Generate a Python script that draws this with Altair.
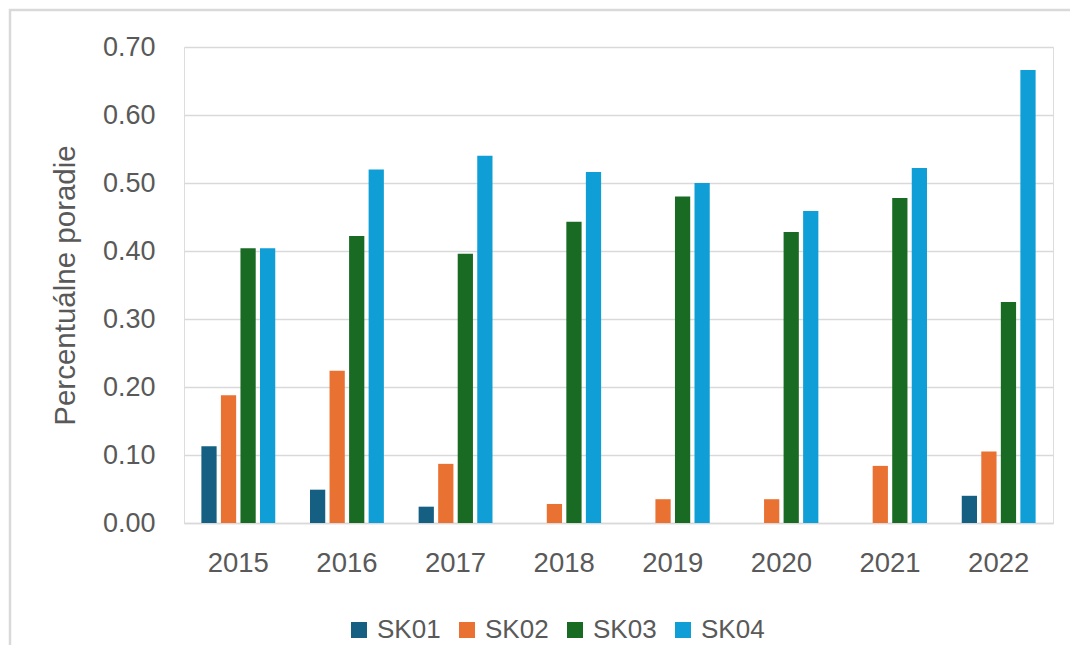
import altair as alt
import pandas as pd

years = ["2015", "2016", "2017", "2018", "2019", "2020", "2021", "2022"]
series = ["SK01", "SK02", "SK03", "SK04"]
sk01 = [0.113, 0.049, 0.024, 0.0, 0.0, 0.0, 0.0, 0.040]
sk02 = [0.188, 0.224, 0.087, 0.028, 0.035, 0.035, 0.084, 0.105]
sk03 = [0.404, 0.422, 0.396, 0.443, 0.480, 0.428, 0.478, 0.325]
sk04 = [0.404, 0.520, 0.540, 0.516, 0.500, 0.459, 0.522, 0.666]
colors = ["#156082", "#E97132", "#196B24", "#0F9ED5"]

rows = []
for name, vals in zip(series, [sk01, sk02, sk03, sk04]):
    for y, v in zip(years, vals):
        rows.append({"year": y, "series": name, "value": v})
df = pd.DataFrame(rows)

FONT = "Liberation Sans"
TXT = "#595959"

bars = alt.Chart(df).mark_bar().encode(
    x=alt.X("year:N", sort=years, title=None,
            scale=alt.Scale(paddingInner=0.32, paddingOuter=0.16),
            axis=alt.Axis(labelAngle=0, labelFontSize=27.5, labelColor=TXT, labelFont=FONT,
                          labelPadding=26, ticks=False, domainColor="#d9d9d9", domainWidth=1.5,
                          grid=False)),
    xOffset=alt.XOffset("series:N", sort=series, scale=alt.Scale(paddingInner=0.22)),
    y=alt.Y("value:Q", title="Percentuálne poradie",
            scale=alt.Scale(domain=[0, 0.7], nice=False),
            axis=alt.Axis(values=[0, 0.1, 0.2, 0.3, 0.4, 0.5, 0.6, 0.7], format=".2f",
                          labelFontSize=27, labelColor=TXT, labelFont=FONT, labelPadding=29,
                          ticks=False, domain=False, gridColor="#d9d9d9", gridWidth=1.5,
                          titleFontSize=29.5, titleFont=FONT, titleColor=TXT,
                          titleFontWeight="normal", titlePadding=22)),
    color=alt.Color("series:N", sort=series,
                    scale=alt.Scale(domain=series, range=colors),
                    legend=alt.Legend(title=None, orient="none", direction="horizontal",
                                      legendX=162, legendY=570, symbolType="square",
                                      symbolSize=256, symbolStrokeWidth=0,
                                      labelFontSize=26, labelFont=FONT, labelColor=TXT,
                                      columnPadding=13, labelOffset=5)),
)

frame_src = pd.DataFrame({"a": [0]})
frame_top = alt.Chart(frame_src).mark_rule(color="#d9d9d9", strokeWidth=2.5).encode(
    x=alt.value(-175), x2=alt.value(886), y=alt.value(-37))
frame_left = alt.Chart(frame_src).mark_rule(color="#d9d9d9", strokeWidth=2.5).encode(
    x=alt.value(-174), y=alt.value(-38), y2=alt.value(598))

chart = alt.layer(frame_top, frame_left, bars).properties(
    width=869, height=476,
    autosize=alt.AutoSizeParams(type="none"),
    padding={"left": 176, "top": 39, "right": 19, "bottom": 124},
).configure_view(stroke=None).configure(background="white")

chart.save("out.html", embed_options={"renderer": "svg", "actions": False})
